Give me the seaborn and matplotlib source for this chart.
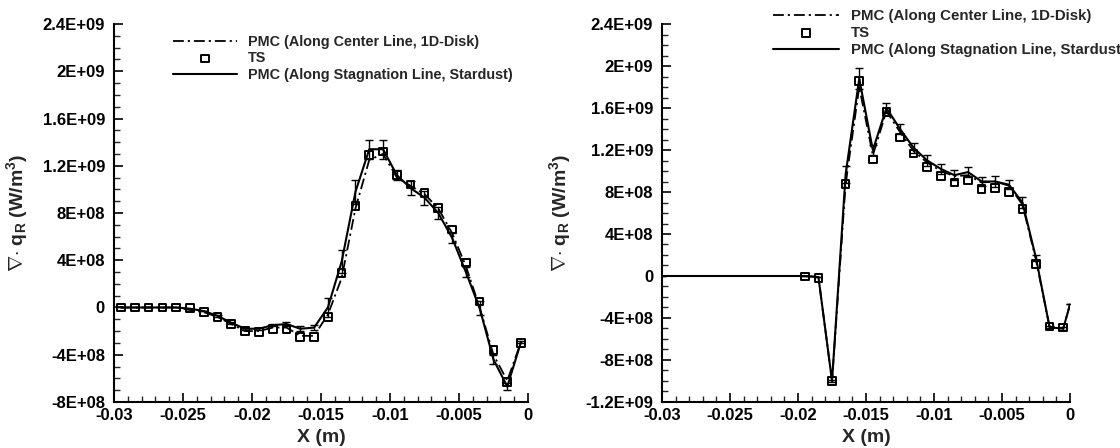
import numpy as np
import pandas as pd
import matplotlib
matplotlib.use("Agg")
import matplotlib.pyplot as plt
import seaborn as sns
from matplotlib.ticker import MultipleLocator, FuncFormatter

# ---------------- data ----------------
# left panel
x_l = [-0.0295, -0.0285, -0.0275, -0.0265, -0.0255, -0.0245, -0.0235, -0.0225,
       -0.0215, -0.0205, -0.0195, -0.0185, -0.0175, -0.0165, -0.0155, -0.0145,
       -0.0135, -0.0125, -0.0115, -0.0105, -0.0095, -0.0085, -0.0075, -0.0065,
       -0.0055, -0.0045, -0.0035, -0.0025, -0.0015, -0.0005]
ts_l = [0.0, 0.0, 0.0, 0.0, 0.0, -0.02e8, -0.4e8, -0.8e8,
        -1.4e8, -2.0e8, -2.1e8, -1.8e8, -1.8e8, -2.5e8, -2.5e8, -0.8e8,
        2.9e8, 8.6e8, 1.29e9, 1.32e9, 1.12e9, 1.04e9, 0.97e9, 0.84e9,
        0.66e9, 0.38e9, 0.05e9, -3.6e8, -6.3e8, -3.0e8]
stag_l = [0.0, 0.0, 0.0, 0.0, 0.0, -0.1e8, -0.3e8, -0.7e8,
          -1.3e8, -1.8e8, -1.8e8, -1.5e8, -1.4e8, -1.8e8, -1.7e8, 0.0,
          3.9e8, 9.8e8, 1.34e9, 1.34e9, 1.12e9, 1.01e9, 0.93e9, 0.80e9,
          0.59e9, 0.30e9, -0.07e8, -4.4e8, -6.7e8, -2.9e8]
center_l = [0.0, 0.0, 0.0, 0.0, 0.0, -0.2e8, -0.4e8, -0.8e8,
            -1.4e8, -2.0e8, -2.0e8, -1.7e8, -1.7e8, -2.4e8, -2.4e8, -0.6e8,
            2.5e8, 8.4e8, 1.25e9, 1.30e9, 1.10e9, 1.03e9, 0.96e9, 0.84e9,
            0.63e9, 0.35e9, 0.0, -4.0e8, -6.2e8, -2.9e8]
err_l = [0.0, 0.0, 0.0, 0.0, 0.0, 0.0, 0.0, 0.1e8,
         0.1e8, 0.1e8, 0.1e8, 0.1e8, 0.2e8, 0.2e8, 0.2e8, 0.8e8,
         1.0e8, 1.0e8, 0.8e8, 0.8e8, 0.4e8, 0.6e8, 0.6e8, 0.5e8,
         0.4e8, 0.4e8, 0.6e8, 0.4e8, 0.3e8, 0.1e8]

# right panel
x_line_r = [-0.03, -0.0195, -0.0185, -0.0175, -0.0165, -0.0155, -0.0145,
            -0.0135, -0.0125, -0.0115, -0.0105, -0.0095, -0.0085, -0.0075,
            -0.0065, -0.0055, -0.0045, -0.0035, -0.0025, -0.0015, -0.0005, 0.0]
stag_r = [0.0, 0.0, -0.1e8, -1.0e9, 0.97e9, 1.88e9, 1.20e9,
          1.60e9, 1.40e9, 1.22e9, 1.10e9, 1.02e9, 0.96e9, 0.99e9,
          0.90e9, 0.90e9, 0.87e9, 0.70e9, 0.17e9, -4.9e8, -5.0e8, -2.7e8]
center_r = [0.0, 0.0, -0.1e8, -1.0e9, 0.88e9, 1.80e9, 1.15e9,
            1.57e9, 1.37e9, 1.19e9, 1.08e9, 1.00e9, 0.95e9, 0.96e9,
            0.89e9, 0.90e9, 0.86e9, 0.68e9, 0.15e9, -4.9e8, -5.0e8, -2.7e8]
err_r = [0.0, 0.0, 0.0, 0.1e8, 0.8e8, 1.0e8, 0.5e8,
         0.5e8, 0.5e8, 0.5e8, 0.5e8, 0.5e8, 0.5e8, 0.5e8,
         0.4e8, 0.5e8, 0.4e8, 0.5e8, 0.3e8, 0.1e8, 0.1e8, 0.0]
x_ts_r = [-0.0195, -0.0185, -0.0175, -0.0165, -0.0155, -0.0145, -0.0135,
          -0.0125, -0.0115, -0.0105, -0.0095, -0.0085, -0.0075, -0.0065,
          -0.0055, -0.0045, -0.0035, -0.0025, -0.0015, -0.0005]
ts_r = [-0.05e8, -0.2e8, -1.0e9, 0.875e9, 1.86e9, 1.11e9, 1.56e9,
        1.32e9, 1.165e9, 1.04e9, 0.95e9, 0.89e9, 0.91e9, 0.83e9,
        0.84e9, 0.80e9, 0.64e9, 0.115e9, -4.8e8, -4.9e8]

lab_center = "PMC (Along Center Line, 1D-Disk)"
lab_ts = "TS"
lab_stag = "PMC (Along Stagnation Line, Stardust)"

# ---------------- style ----------------
sns.set_style("ticks")
plt.rcParams['font.family'] = ['Liberation Sans', 'DejaVu Sans']
plt.rcParams['font.weight'] = 'bold'
plt.rcParams['mathtext.fontset'] = 'custom'
plt.rcParams['mathtext.rm'] = 'Liberation Sans:bold'
plt.rcParams['mathtext.default'] = 'rm'


def sci_fmt(v, pos):
    if abs(v) < 1:
        return "0"
    s = "%.1E" % v
    mant, ex = s.split("E")
    if mant.endswith(".0"):
        mant = mant[:-2]
    return mant + "E" + ex[0] + ex[1:].zfill(2)


def style_axis(ax, ymin, ymax):
    ax.set_xlim(-0.03, 0.0)
    ax.set_ylim(ymin, ymax)
    ax.xaxis.set_major_locator(MultipleLocator(0.005))
    ax.xaxis.set_minor_locator(MultipleLocator(0.001))
    ax.yaxis.set_major_locator(MultipleLocator(4e8))
    ax.yaxis.set_minor_locator(MultipleLocator(1e8))
    ax.yaxis.set_major_formatter(FuncFormatter(sci_fmt))
    ax.xaxis.set_major_formatter(FuncFormatter(lambda v, p: "0" if abs(v) < 1e-9 else ("%g" % v)))
    ax.tick_params(which='major', direction='in', length=6.7, width=1.2,
                   labelsize=12, colors='black')
    ax.tick_params(axis='y', which='major', pad=6.5)
    ax.tick_params(axis='x', which='major', pad=4)
    ax.tick_params(which='minor', direction='in', length=4.3, width=1.0)
    for lbl in ax.get_xticklabels() + ax.get_yticklabels():
        lbl.set_fontweight('bold')
    sns.despine(ax=ax)
    for sp in ['left', 'bottom']:
        ax.spines[sp].set_linewidth(1.5)
        ax.spines[sp].set_color('black')
    ax.set_xlabel("X (m)", fontsize=14, fontweight='bold', labelpad=5)
    ax.set_ylabel(r"$\nabla$" + r"$\cdot$ q$_{R}$ (W/m$^{3}$)", fontsize=14,
                  fontweight='bold', labelpad=9)
    ax.grid(False)


def draw_panel(ax, x_line, stag, center, err, x_ts, ts):
    df_line = pd.DataFrame({"x": x_line, "stag": stag, "center": center, "err": err})
    df_ts = pd.DataFrame({"x": x_ts, "ts": ts})
    sns.lineplot(data=df_line, x="x", y="center", ax=ax, color='black', lw=1.3,
                 estimator=None, sort=False, label=lab_center,
                 dashes=False, linestyle=(0, (6, 2.2, 1.2, 2.2)))
    sns.scatterplot(data=df_ts, x="x", y="ts", ax=ax, marker='s', s=30,
                    facecolor='none', edgecolor='black', linewidth=1.4,
                    label=lab_ts, zorder=4)
    sns.lineplot(data=df_line, x="x", y="stag", ax=ax, color='black', lw=1.5,
                 estimator=None, sort=False, label=lab_stag)
    ax.errorbar(df_line["x"], df_line["stag"], yerr=df_line["err"], fmt='none',
                ecolor='black', elinewidth=1.0, capsize=3, capthick=1.0, zorder=3)


fig = plt.figure(figsize=(11.2, 4.48), dpi=100)
ax1 = fig.add_axes([0.1018, 0.1027, 0.3696, 0.8437])
ax2 = fig.add_axes([0.5911, 0.1027, 0.3643, 0.8437])

draw_panel(ax1, x_l, stag_l, center_l, err_l, x_l, ts_l)
draw_panel(ax2, x_line_r, stag_r, center_r, err_r, x_ts_r, ts_r)

style_axis(ax1, -8e8, 2.4e9)
style_axis(ax2, -1.2e9, 2.4e9)

for ax, anchor, fs in [(ax1, (0.1425, 0.972), 10.4), (ax2, (0.272, 1.04), 10.8)]:
    handles, labels = ax.get_legend_handles_labels()
    leg = ax.legend(handles, labels, loc='upper left', bbox_to_anchor=anchor,
                    frameon=False, fontsize=fs, handlelength=4.4,
                    handletextpad=0.8, labelspacing=0.2, borderpad=0,
                    borderaxespad=0)
    for t in leg.get_texts():
        t.set_fontweight('bold')
    leg.set_clip_on(False)

fig.savefig("out.png", dpi=100)
